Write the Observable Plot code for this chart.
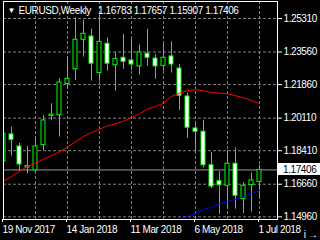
<!DOCTYPE html>
<html><head><meta charset="utf-8">
<script src="https://cdn.jsdelivr.net/npm/d3@7"></script>
<script src="https://cdn.jsdelivr.net/npm/@observablehq/plot@0.6"></script>
<style>html,body{margin:0;padding:0;background:#000;overflow:hidden}</style>
</head><body><div id="chart"></div>
<script>
// Weekly EURUSD bars, 19 Nov 2017 .. 1 Jul 2018
const open  = [1.1786,1.1926,1.1863,1.1753,1.1738,1.1870,1.2022,1.2026,1.2189,1.2266,1.2420,1.2437,1.2246,1.2399,1.2287,1.2326,1.2312,1.2281,1.2347,1.2322,1.2284,1.2333,1.2270,1.2124,1.1957,1.1940,1.1765,1.1682,1.1658,1.1773,1.1588,1.1661,1.16783];
const high  = [1.1950,1.1964,1.1880,1.1863,1.1905,1.2025,1.2086,1.2218,1.2330,1.2535,1.2521,1.2475,1.2552,1.2430,1.2354,1.2448,1.2423,1.2392,1.2475,1.2343,1.2395,1.2409,1.2291,1.2141,1.1988,1.1999,1.1832,1.1731,1.1842,1.1856,1.1675,1.1724,1.17657];
const low   = [1.1713,1.1814,1.1734,1.1720,1.1734,1.1842,1.1999,1.1912,1.2162,1.2207,1.2329,1.2204,1.2204,1.2256,1.2152,1.2266,1.2260,1.2235,1.2281,1.2214,1.2256,1.2246,1.2051,1.1905,1.1832,1.1752,1.1644,1.1508,1.1533,1.1536,1.1512,1.1522,1.15907];
const close = [1.1929,1.1898,1.1769,1.1761,1.1863,1.1999,1.2030,1.2197,1.2216,1.2420,1.2451,1.2295,1.2409,1.2295,1.2319,1.2305,1.2291,1.2354,1.2326,1.2281,1.2326,1.2291,1.2128,1.1961,1.1940,1.1765,1.1654,1.1661,1.1773,1.1606,1.1658,1.1686,1.17406];
const maRed = [1.1682,1.1706,1.1733,1.1759,1.1776,1.1797,1.1814,1.1835,1.1860,1.1888,1.1915,1.1936,1.1953,1.1971,1.1981,1.1995,1.2014,1.2034,1.2058,1.2072,1.2089,1.2124,1.2141,1.2155,1.2159,1.2155,1.2145,1.2141,1.2138,1.2128,1.2117,1.2103,1.2086];
const maBlue = [null,null,null,null,null,null,null,null,null,null,null,null,null,null,null,null,null,null,null,null,null,1.1466,1.1482,1.1498,1.1515,1.1533,1.1546,1.1564,1.1574,1.1588,1.1602,1.1616,1.1633];
const priceTicks = [1.25310,1.23560,1.21860,1.20110,1.18410,1.16660,1.14960];
const dateTickIdx = [0,8,16,24,32];
const dateLabels = ["19 Nov 2017","14 Jan 2018","11 Mar 2018","6 May 2018","1 Jul 2018"];
const gridIdx = [0,4,8,12,16,20,24,28,32];
const symbol = "EURUSD,Weekly";
const lastPrice = 1.17406;

const bars = open.map((o, i) => ({i, o, h: high[i], l: low[i], c: close[i]}));
const idx = d3.range(open.length);
const lime = "#00ff00";
const fmt = d3.format(".5f");
const headerPrices = [open.at(-1), high.at(-1), low.at(-1), close.at(-1)].map(fmt).join(" ");

const chart = Plot.plot({
  width: 320, height: 240,
  marginLeft: 3, marginRight: 43, marginTop: 1, marginBottom: 21,
  style: {background: "#000", color: "#fff", fontFamily: "'Liberation Sans', Arial, sans-serif", fontSize: "10px", letterSpacing: "-0.4px"},
  x: {domain: [0, 34.25], axis: null},
  y: {domain: [1.14820, 1.26197], axis: null},
  marks: [
    Plot.gridX(gridIdx, {stroke: "#808080", strokeOpacity: 1, strokeDasharray: "3,2"}),
    Plot.gridY(priceTicks, {stroke: "#808080", strokeOpacity: 1, strokeDasharray: "3,2"}),
    Plot.ruleY([lastPrice], {stroke: "#9a9a9a"}),
    Plot.ruleX(bars, {x: "i", y1: "l", y2: "h", stroke: lime, clip: true}),
    Plot.rect(bars, {x1: d => d.i - 0.25, x2: d => d.i + 0.25, y1: "o", y2: "c",
      fill: d => d.c > d.o ? "#000" : "#fff", stroke: lime, clip: true}),
    Plot.line(idx, {x: i => i, y: i => maRed[i], stroke: "#ff0000", strokeWidth: 1, clip: true}),
    Plot.line(idx, {x: i => i, y: i => maBlue[i], stroke: "#0000ff", strokeWidth: 1, clip: true}),
    Plot.frame({stroke: "#fff"}),
    Plot.axisY(priceTicks, {anchor: "right", tickSize: 4, tickPadding: 2, tickFormat: fmt, stroke: "#fff", fill: "#fff"}),
    Plot.axisX(dateTickIdx, {anchor: "bottom", tickSize: 3, tickPadding: 3, textAnchor: "start", dx: -1,
      tickFormat: d => dateLabels[dateTickIdx.indexOf(d)], stroke: "#fff", fill: "#fff"}),
    Plot.text(["▼"], {frameAnchor: "top-left", dx: 4, dy: 6, fontSize: 8, fill: "#fff"}),
    Plot.text([symbol], {frameAnchor: "top-left", dx: 15, dy: 5, fill: "#fff"}),
    Plot.text([headerPrices], {frameAnchor: "top-left", dx: 94.5, dy: 5, fill: "#fff"})
  ]
});
document.getElementById("chart").appendChild(chart);

// current price label box on the price axis
const ys = chart.scale("y");
const yy = ys.apply(lastPrice);
const svg = d3.select(chart);
svg.append("rect").attr("x", 278).attr("y", Math.round(yy) - 6).attr("width", 42).attr("height", 12).attr("fill", "#fff");
svg.append("text").attr("x", 283).attr("y", yy).attr("dy", "0.35em").attr("text-anchor", "start")
  .attr("fill", "#000").attr("font-size", 10).text(fmt(lastPrice));
</script>
</body></html>
